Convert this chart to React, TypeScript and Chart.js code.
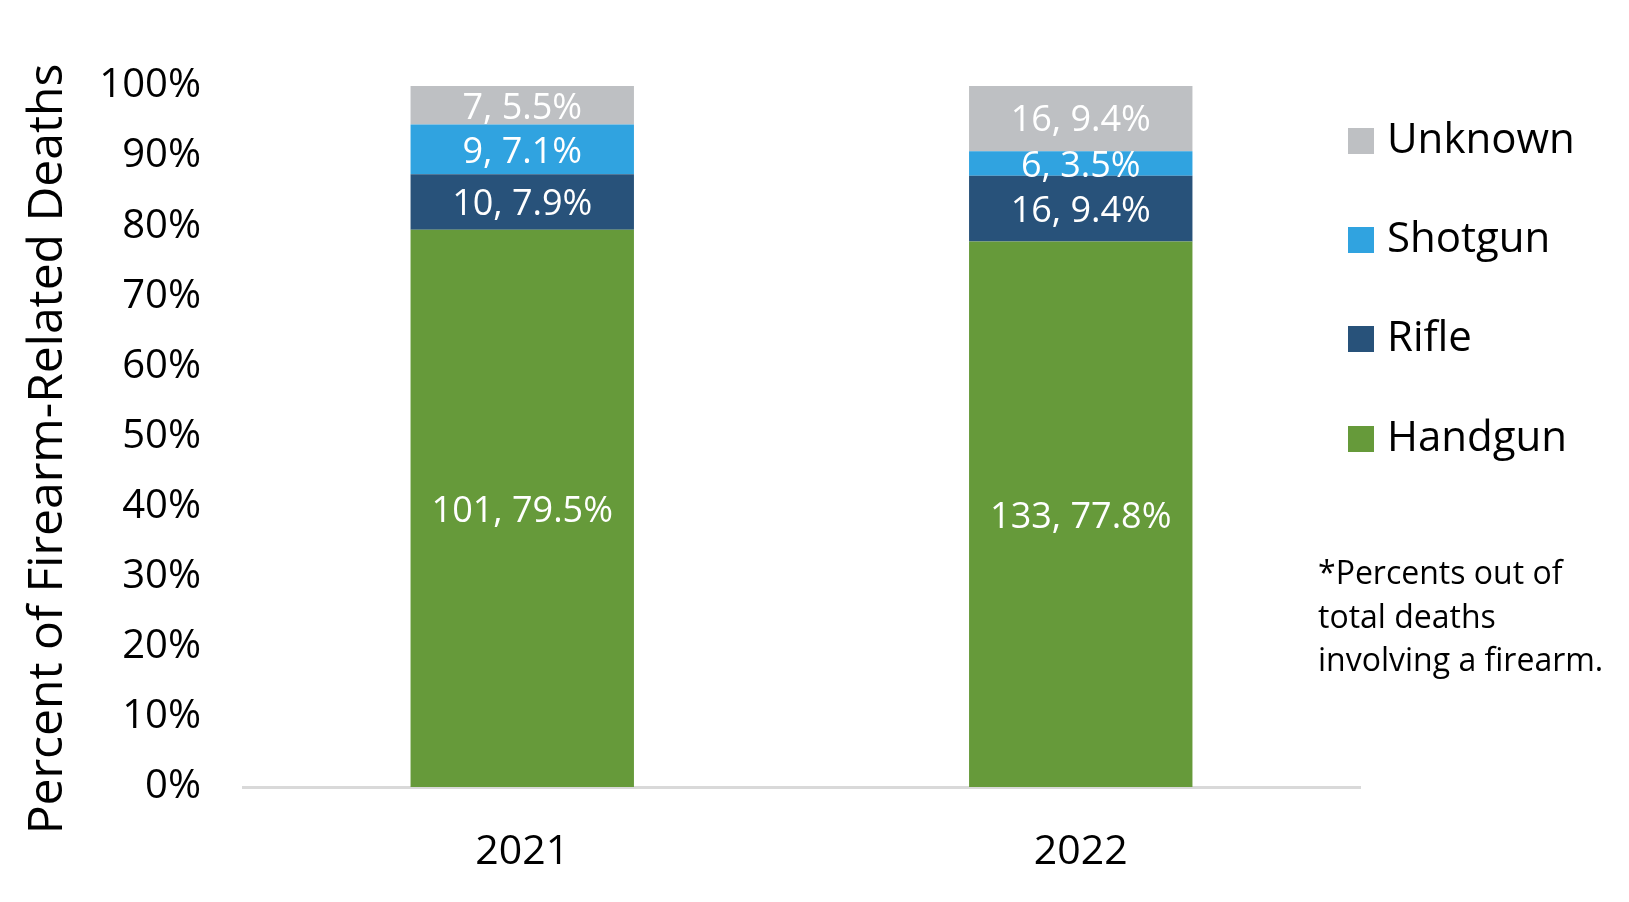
import React, { useEffect, useRef } from "react";
import { Chart, registerables } from "chart.js";

Chart.register(...registerables);

const years = ["2021", "2022"];
const seriesNames = ["Handgun", "Rifle", "Shotgun", "Unknown"];
const handgunPct = [79.5, 77.8];
const riflePct = [7.9, 9.4];
const shotgunPct = [7.1, 3.5];
const unknownPct = [5.5, 9.4];
const handgunCount = [101, 133];
const rifleCount = [10, 16];
const shotgunCount = [9, 6];
const unknownCount = [7, 16];
const seriesColors = ["#669a3a", "#28527a", "#30a3e0", "#bec0c3"];
const yTicks = [0, 10, 20, 30, 40, 50, 60, 70, 80, 90, 100];
const yTitle = "Percent of Firearm-Related Deaths";
const noteLines = ["*Percents out of", "total deaths", "involving a firearm."];

const FONT = "'Open Sans', sans-serif";

const pctSeries = [handgunPct, riflePct, shotgunPct, unknownPct];
const countSeries = [handgunCount, rifleCount, shotgunCount, unknownCount];

const labelPlugin = {
  id: "segLabels",
  afterDatasetsDraw(chart: any) {
    const ctx = chart.ctx;
    ctx.save();
    ctx.font = `36px ${FONT}`;
    ctx.fillStyle = "#ffffff";
    ctx.textAlign = "center";
    ctx.textBaseline = "middle";
    chart.data.datasets.forEach((ds: any, di: number) => {
      const meta = chart.getDatasetMeta(di);
      meta.data.forEach((el: any, i: number) => {
        const p = el.getCenterPoint();
        const txt = `${countSeries[di][i]}, ${pctSeries[di][i].toFixed(1)}%`;
        ctx.fillText(txt, p.x, p.y + 3);
      });
    });
    ctx.restore();
  },
};

const sidePlugin = {
  id: "sideLegend",
  afterDraw(chart: any) {
    const ctx = chart.ctx;
    ctx.save();
    // y-axis title
    ctx.font = `48px ${FONT}`;
    ctx.fillStyle = "#000000";
    ctx.textAlign = "center";
    ctx.textBaseline = "middle";
    ctx.translate(48, 449);
    ctx.rotate(-Math.PI / 2);
    ctx.fillText(yTitle, 0, 0);
    ctx.setTransform(1, 0, 0, 1, 0, 0);

    const ds = chart.data.datasets.slice().reverse();
    const centers = [141, 240, 339, 439];
    ctx.font = `42px ${FONT}`;
    ctx.textAlign = "left";
    ctx.textBaseline = "middle";
    ds.forEach((d: any, i: number) => {
      const cy = centers[i];
      ctx.fillStyle = d.backgroundColor;
      ctx.fillRect(1348, cy - 13, 26, 26);
      ctx.fillStyle = "#000000";
      ctx.fillText(d.label, 1387, cy);
    });
    ctx.font = `32px ${FONT}`;
    ctx.textBaseline = "alphabetic";
    const baselines = [584, 628, 671];
    noteLines.forEach((t, i) => ctx.fillText(t, 1318, baselines[i]));
    ctx.restore();
  },
};

export default function App() {
  const ref = useRef<HTMLCanvasElement | null>(null);
  useEffect(() => {
    if (!ref.current) return;
    const chart = new Chart(ref.current, {
      type: "bar",
      data: {
        labels: years,
        datasets: seriesNames.map((name, i) => ({
          label: name,
          data: pctSeries[i],
          backgroundColor: seriesColors[i],
          borderWidth: 0,
          barPercentage: 0.4,
          categoryPercentage: 1.0,
        })),
      },
      options: {
        animation: false,
        responsive: false,
        devicePixelRatio: 1,
        layout: { padding: { left: 0, right: 269, top: 86, bottom: 0 } },
        plugins: {
          legend: { display: false },
          tooltip: { enabled: false },
        },
        scales: {
          x: {
            stacked: true,
            grid: { display: false },
            border: { display: true, color: "#d9d9d9", width: 3 },
            ticks: { font: { family: FONT, size: 41 }, color: "#000", padding: 33 },
            afterFit: (scale: any) => {
              scale.height = 115;
            },
          },
          y: {
            stacked: true,
            min: 0,
            max: 100,
            afterBuildTicks: (axis: any) => {
              axis.ticks = yTicks.map((v) => ({ value: v }));
            },
            afterFit: (scale: any) => {
              scale.width = 243;
            },
            grid: { display: false, drawTicks: false },
            border: { display: false },
            ticks: {
              font: { family: FONT, size: 40 },
              color: "#000",
              padding: 42,
              callback: (v: any) => `${v}%`,
            },
          },
        },
      },
      plugins: [labelPlugin, sidePlugin],
    });
    return () => chart.destroy();
  }, []);
  return (
    <div style={{ position: "absolute", left: 0, top: 0, width: 1629, height: 902, background: "#fff" }}>
      <canvas ref={ref} width={1629} height={902} style={{ display: "block" }} />
    </div>
  );
}
